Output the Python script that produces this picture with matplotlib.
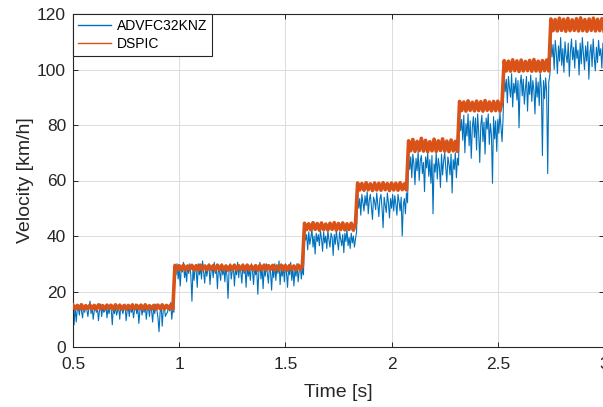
import numpy as np
import matplotlib.pyplot as plt

plt.rcParams.update({
    "font.family": ["Liberation Sans", "DejaVu Sans"],
    "font.size": 10,
})

# step boundaries of the speed profile [s]
seg_edges = [0.5, 0.98, 1.59, 1.84, 2.08, 2.32, 2.53, 2.75, 3.0]

# ADVFC32KNZ velocity per step [km/h]
advfc_segs = [
    [14.5, 8.0, 15.0, 9.0, 13.5, 14.0, 11.5, 15.5, 13.0, 10.5, 14.5, 12.5,
     15.0, 13.5, 11.0, 14.0, 16.5, 12.0, 14.5, 10.0, 13.0, 15.0, 12.5, 14.0,
     9.5, 13.5, 15.5, 11.0, 14.5, 12.5, 13.0, 15.0, 10.5, 14.0, 12.0, 15.5,
     13.5, 8.0, 14.5, 12.0, 15.0, 11.5, 13.0, 14.5, 10.0, 15.0, 13.5, 12.0,
     14.0, 15.5, 9.5, 13.0, 14.5, 11.0, 15.0, 12.5, 14.0, 10.5, 13.5, 15.5,
     12.0, 14.5, 8.5, 13.0, 15.0, 11.5, 14.0, 12.5, 15.5, 10.0, 13.5, 14.5,
     11.0, 15.0, 13.0, 9.0, 14.5, 12.0, 15.5, 13.5, 10.5, 5.5, 12.5, 15.0,
     7.5, 13.5, 14.5, 11.0, 12.0, 12.5, 15.0, 13.0, 16.0, 10.0, 14.0, 12.5],
    [29.5, 26.0, 30.0, 24.5, 28.5, 22.0, 29.0, 27.0, 30.5, 25.0, 28.0, 23.5,
     29.5, 26.5, 30.0, 25.5, 16.5, 28.5, 24.0, 29.0, 27.5, 21.5, 30.0, 26.0,
     28.5, 24.5, 31.0, 27.0, 23.0, 29.5, 25.5, 28.0, 30.0, 22.5, 27.5, 29.0,
     25.0, 30.5, 26.5, 28.5, 21.0, 29.0, 27.0, 24.0, 30.0, 26.0, 28.5, 23.5,
     29.5, 25.5, 17.5, 28.0, 30.0, 24.5, 27.5, 29.0, 22.0, 28.5, 26.0, 30.5,
     25.0, 29.0, 27.0, 23.0, 30.0, 26.5, 28.5, 21.5, 29.5, 25.5, 28.0, 24.0,
     30.0, 27.5, 22.5, 29.0, 26.0, 28.5, 19.0, 27.0, 30.5, 24.5, 29.0, 21.0,
     28.0, 25.5, 30.0, 26.5, 23.0, 29.5, 27.0, 20.5, 28.5, 25.0, 30.0, 24.0,
     29.0, 26.5, 31.0, 22.5, 28.0, 25.5, 29.5, 23.5, 30.0, 27.0, 21.5, 28.5,
     26.0, 30.5, 24.0, 29.0, 22.0, 28.0, 25.5, 30.0, 23.5, 27.5, 29.5, 24.5,
     28.5, 26.0],
    [42.0, 38.5, 40.5, 35.0, 41.5, 37.0, 39.5, 42.5, 36.0, 40.0, 33.5, 41.0,
     38.0, 40.5, 36.5, 42.0, 39.0, 34.5, 41.5, 37.5, 40.0, 35.5, 42.0, 38.5,
     36.0, 41.0, 39.5, 33.0, 40.5, 37.0, 42.0, 38.0, 35.0, 41.5, 39.0, 36.5,
     40.5, 34.0, 41.0, 38.0, 42.5, 36.5, 39.5, 35.5, 41.0, 37.5, 40.0, 36.0,
     39.0, 41.5],
    [55.5, 50.0, 53.5, 47.5, 55.0, 52.0, 49.0, 54.5, 51.0, 56.0, 48.0, 53.0,
     55.0, 50.5, 46.0, 54.0, 52.5, 49.5, 55.5, 51.5, 47.0, 53.5, 55.0, 50.0,
     43.0, 54.0, 51.0, 48.5, 55.5, 52.0, 46.5, 53.5, 50.0, 55.0, 49.0, 54.5,
     51.5, 47.5, 55.0, 52.5, 49.0, 54.0, 40.0, 51.0, 53.5, 48.0, 55.5, 52.0],
    [70.0, 64.0, 68.5, 61.0, 69.5, 66.0, 58.5, 68.0, 63.5, 70.5, 60.0, 67.0,
     69.0, 62.5, 66.5, 56.0, 68.5, 64.5, 70.0, 61.5, 67.5, 59.0, 69.0, 48.0,
     66.0, 63.0, 70.0, 60.5, 68.0, 65.0, 57.5, 69.5, 62.0, 67.0, 70.0, 64.5,
     59.5, 68.5, 66.0, 62.0, 69.5, 55.5, 67.5, 64.0, 70.0, 61.0, 68.0, 65.5],
    [84.5, 78.0, 82.0, 74.5, 83.5, 70.0, 80.5, 76.0, 84.0, 72.5, 81.5, 68.0,
     79.0, 83.0, 75.5, 82.5, 71.0, 84.0, 77.5, 66.5, 80.0, 83.5, 74.0, 81.0,
     69.5, 82.5, 78.5, 84.0, 73.0, 80.5, 76.5, 59.0, 83.0, 75.0, 81.5, 70.5,
     82.0, 77.0, 84.5, 79.5, 74.0, 83.0],
    [98.0, 92.0, 96.5, 88.0, 97.5, 93.5, 90.0, 98.5, 86.5, 95.0, 91.5, 97.0,
     89.0, 96.0, 79.0, 94.5, 98.0, 90.5, 96.5, 87.5, 93.0, 97.5, 85.0, 95.5,
     91.0, 98.0, 88.5, 96.0, 92.5, 84.0, 97.0, 90.0, 95.5, 87.0, 98.5, 93.0,
     69.0, 96.0, 89.5, 97.0, 92.0, 62.5, 95.5, 98.0],
    [111.0, 104.5, 109.0, 100.0, 110.5, 106.0, 98.5, 108.5, 103.0, 111.5,
     101.5, 107.5, 99.0, 110.0, 105.0, 102.5, 109.5, 97.5, 106.5, 111.0,
     103.5, 108.0, 100.5, 110.5, 104.0, 107.0, 98.0, 109.5, 102.0, 111.5,
     105.5, 100.0, 108.5, 103.0, 110.0, 96.5, 106.0, 109.0, 101.0, 111.0,
     104.5, 99.5, 108.0, 102.5, 110.5, 105.0, 107.5, 100.5, 109.5, 103.5],
]

# DSPIC velocity per step [km/h]
dspic_segs = [
    [15.1, 13.7, 15.0, 13.8, 15.2, 13.6, 14.9, 13.9, 15.1, 13.7, 15.0, 13.6,
     15.2, 13.8, 14.9, 13.7, 15.1, 13.9, 15.0, 13.6, 15.2, 13.8, 15.1, 13.7,
     14.9, 13.6, 15.0, 13.8, 15.2, 13.7, 15.0, 13.9, 15.1, 13.6, 15.2, 13.8,
     14.9, 13.7, 15.0, 13.6, 15.1, 13.8, 15.2, 13.7, 15.0, 13.9, 15.1, 13.6],
    [29.4, 27.8, 29.3, 27.9, 29.5, 27.7, 29.2, 28.0, 29.4, 27.8, 29.3, 27.7,
     29.5, 27.9, 29.2, 27.8, 29.4, 28.0, 29.3, 27.7, 29.5, 27.9, 29.4, 27.8,
     29.2, 27.7, 29.3, 27.9, 29.5, 27.8, 29.3, 28.0, 29.4, 27.7, 29.5, 27.9,
     29.2, 27.8, 29.3, 27.7, 29.4, 27.9, 29.5, 27.8, 29.3, 28.0, 29.4, 27.7,
     29.2, 27.9, 29.5, 27.8, 29.3, 27.7, 29.4, 28.0, 29.2, 27.8, 29.5, 27.9,
     29.3],
    [44.6, 42.3, 44.4, 42.2, 44.8, 42.4, 44.5, 42.1, 44.7, 42.3, 44.3, 42.2,
     44.6, 42.4, 44.8, 42.1, 44.5, 42.3, 44.7, 42.2, 44.4, 42.4, 44.6, 42.1,
     44.5],
    [59.1, 56.6, 58.9, 56.5, 59.2, 56.7, 58.8, 56.4, 59.1, 56.6, 59.0, 56.5,
     59.2, 56.7, 58.9, 56.4, 59.1, 56.6, 59.0, 56.5, 59.2, 56.7, 58.8, 56.6],
    [74.3, 70.7, 74.8, 70.5, 74.1, 70.8, 75.2, 70.6, 74.5, 70.4, 74.0, 70.7,
     74.9, 70.5, 74.3, 70.8, 75.0, 70.6, 74.2, 70.4, 74.6, 70.7, 74.1, 70.5],
    [88.5, 85.2, 88.3, 85.0, 88.7, 85.3, 88.2, 85.1, 88.6, 85.2, 88.4, 85.0,
     88.8, 85.3, 88.3, 85.1, 88.5, 85.2, 88.6, 85.0, 88.4],
    [103.2, 99.5, 103.0, 99.4, 103.5, 99.6, 103.1, 99.3, 103.4, 99.5, 102.9,
     99.6, 103.3, 99.4, 103.6, 99.5, 103.0, 99.3, 103.2, 99.6, 103.4, 99.5],
    [118.2, 114.0, 118.0, 113.9, 118.5, 114.1, 118.1, 113.8, 118.4, 114.0,
     117.9, 114.1, 118.3, 113.9, 118.6, 114.0, 118.0, 113.8, 118.2, 114.1,
     118.5, 113.9, 118.1, 114.0, 118.3, 113.9],
]

x_ticks = [0.5, 1, 1.5, 2, 2.5, 3]
y_ticks = [0, 20, 40, 60, 80, 100, 120]


def build_series(segs):
    """Lay each step's samples evenly inside its time window."""
    t_all, v_all = [], []
    n_seg = len(segs)
    for i, vals in enumerate(segs):
        last = i == n_seg - 1
        t = np.linspace(seg_edges[i], seg_edges[i + 1], len(vals),
                        endpoint=last)
        t_all.append(t)
        v_all.append(np.array(vals))
    return np.concatenate(t_all), np.concatenate(v_all)


t_adv, v_adv = build_series(advfc_segs)
t_dsp, v_dsp = build_series(dspic_segs)

fig = plt.figure(figsize=(6.03, 4.07), dpi=100)
ax = fig.add_axes([73 / 603, 60 / 407, 531 / 603, 333 / 407])

ax.plot(t_adv, v_adv, color="#0072BD", linewidth=0.8,
        label="ADVFC32KNZ", zorder=2)
ax.plot(t_dsp, v_dsp, color="#D95319", linewidth=2.6,
        label="DSPIC", zorder=3)

ax.set_xlim(0.5, 3)
ax.set_ylim(0, 120)
ax.set_xticks(x_ticks)
ax.set_xticklabels(["0.5", "1", "1.5", "2", "2.5", "3"])
ax.set_yticks(y_ticks)
ax.grid(True, color="#dcdcdc", linewidth=0.7)
ax.set_axisbelow(True)

for s in ax.spines.values():
    s.set_color("#262626")
    s.set_linewidth(0.8)
ax.tick_params(direction="in", length=3.5, width=0.7, top=True,
               right=True, colors="#262626", labelsize=12.5)
ax.tick_params(axis="x", pad=7)
ax.tick_params(axis="y", pad=5)

ax.set_xlabel("Time [s]", fontsize=14, color="#262626", labelpad=9)
ax.set_ylabel("Velocity [km/h]", fontsize=14, color="#262626", labelpad=2)

leg = ax.legend(loc="upper left", borderaxespad=0, fancybox=False,
                edgecolor="#262626", fontsize=10, handlelength=2.4,
                handletextpad=0.4, borderpad=0.35, labelspacing=0.3,
                framealpha=1)
leg.get_frame().set_linewidth(0.8)
for line in leg.get_lines():
    line.set_linewidth(1.0)

fig.savefig("out.png", dpi=100)
